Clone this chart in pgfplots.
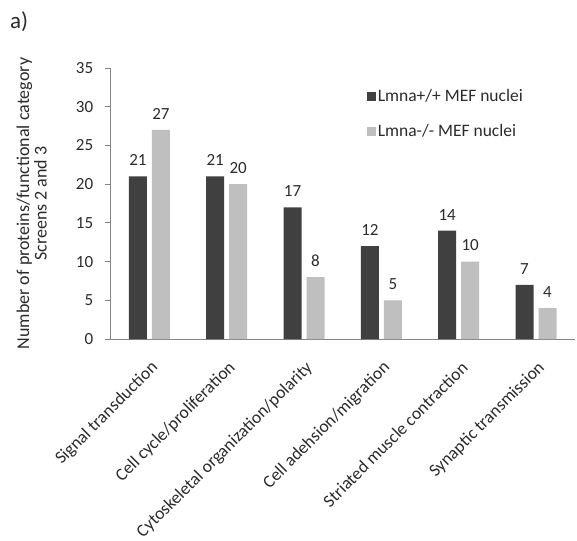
\documentclass[border=0pt]{standalone}
\usepackage{fontspec}
\setmainfont{Carlito}
\usepackage{pgfplots}
\pgfplotsset{compat=1.18}
\definecolor{darkbar}{HTML}{404040}
\definecolor{lightbar}{HTML}{BFBFBF}
\definecolor{axisgray}{HTML}{868686}
\definecolor{txt}{HTML}{2B2B2B}
\begin{document}
\begin{tikzpicture}
\useasboundingbox (-110.7bp,-202bp) rectangle (466.3bp,339bp);
\node[anchor=base west, inner sep=0pt, text=txt, font=\fontsize{23bp}{27bp}\selectfont] at (-100.7bp,310.5bp) {a)};
\begin{axis}[
  at={(0,0)}, anchor=south west,
  width=464bp, height=271bp, scale only axis,
  xmin=-0.5, xmax=5.5, ymin=0, ymax=35,
  axis lines*=left,
  axis line style={axisgray, line width=0.8bp},
  ytick={0,5,...,35},
  xtick={0,1,2,3,4,5},
  xticklabels={Signal transduction, Cell cycle/proliferation, Cytoskeletal organization/polarity, Cell adehsion/migration, Striated muscle contraction, Synaptic transmission},
  xtick style={draw=none},
  ytick style={axisgray, line width=0.8bp},
  tick align=outside,
  major tick length=6bp,
  /pgf/number format/assume math mode=true,
  tick label style={text=txt, font=\fontsize{17bp}{20bp}\selectfont},
  xticklabel style={xshift=6bp, yshift=-20bp, rotate=45, anchor=east, inner sep=0pt, font=\fontsize{17.6bp}{21bp}\selectfont},
  yticklabel style={xshift=-8bp},
  ylabel={Number of proteins/functional category\\Screens 2 and 3},
  ylabel style={at={(axis description cs:-0.13,0.5)}, anchor=south, align=center, text=txt, font=\fontsize{18bp}{17.5bp}\selectfont},
  ybar,
  bar width=18bp,
  nodes near coords,
  every node near coord/.append style={text=txt, font=\fontsize{17bp}{20bp}\selectfont, yshift=7bp},
  legend style={at={(0.545,0.935)}, anchor=north west, draw=none, fill=none, font=\fontsize{17.5bp}{21bp}\selectfont, text=txt, row sep=17bp},
  legend cell align=left,
  legend image code/.code={\fill[#1] (0bp,-4.5bp) rectangle (9bp,4.5bp);},
]
\addplot[fill=darkbar, draw=none, bar shift=-11.5bp] coordinates {(0,21) (1,21) (2,17) (3,12) (4,14) (5,7)};
\addplot[fill=lightbar, draw=none, bar shift=11.5bp] coordinates {(0,27) (1,20) (2,8) (3,5) (4,10) (5,4)};
\legend{Lmna+/+ MEF nuclei, Lmna-/- MEF nuclei}
\end{axis}
\end{tikzpicture}
\end{document}
